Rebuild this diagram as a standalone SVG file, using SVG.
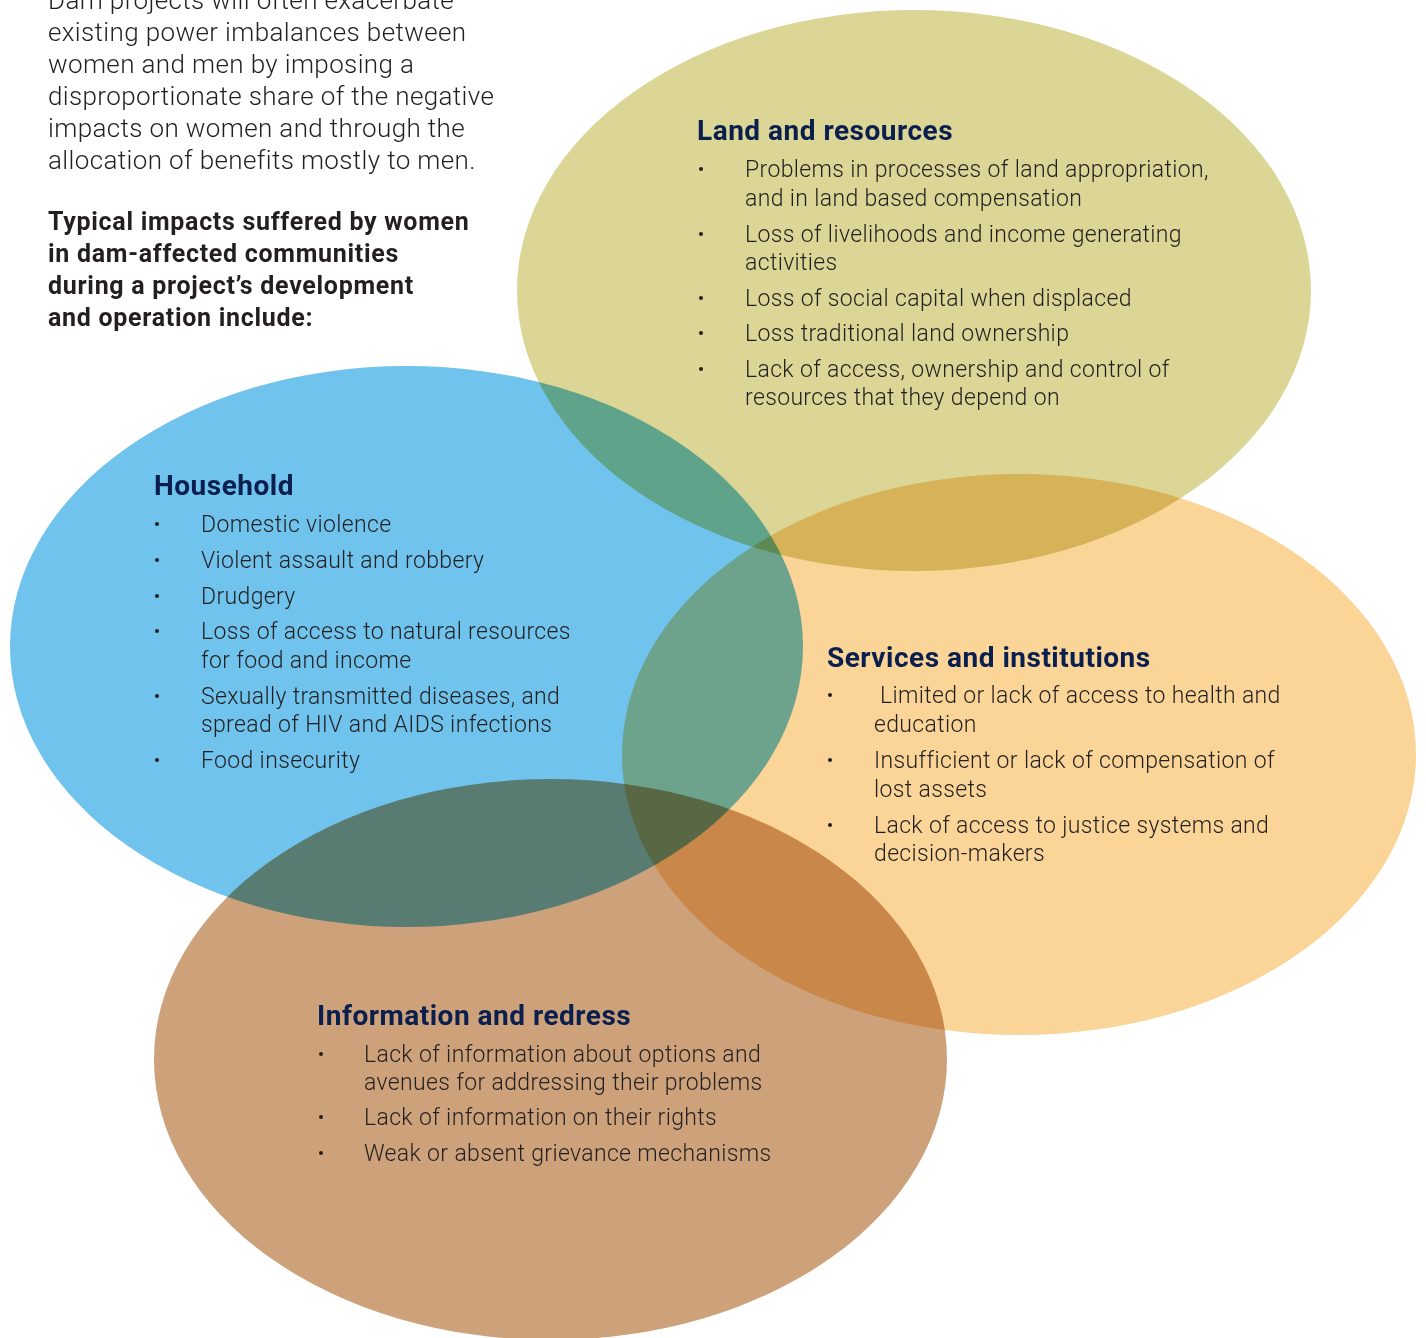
<svg xmlns="http://www.w3.org/2000/svg" width="1426" height="1338" viewBox="0 0 1426 1338">
<style>
.bg{fill:#ffffff}
.el{mix-blend-mode:multiply}
.intro{font-family:Roboto,"Liberation Sans",sans-serif;font-weight:300;font-size:26px;letter-spacing:0.37px;fill:#231f20}
.lead{font-family:Roboto,"Liberation Sans",sans-serif;font-weight:700;font-size:25px;letter-spacing:0.7px;fill:#231f20}
.title{font-family:Roboto,"Liberation Sans",sans-serif;font-weight:700;font-size:28px;letter-spacing:0.5px;fill:#0b1f4f}
.item{font-family:Roboto,"Liberation Sans",sans-serif;font-weight:300;font-size:23px;letter-spacing:0.35px;fill:#231f20}
.dot{fill:#231f20}
</style>
<rect class="bg" x="0" y="0" width="1426" height="1338"/>
<g id="ellipses">
<ellipse id="e-land" class="el" cx="914" cy="290.5" rx="397" ry="280.5" fill="#dbd695"/>
<ellipse id="e-household" class="el" cx="406.5" cy="646.5" rx="396.5" ry="280.5" fill="#6fc3ec"/>
<ellipse id="e-services" class="el" cx="1019" cy="754.5" rx="397" ry="280.5" fill="#fad597"/>
<ellipse id="e-info" class="el" cx="550.5" cy="1059.5" rx="396.5" ry="280.5" fill="#cda27b"/>
</g>
<g id="intro">
<text class="intro" x="48" y="9">Dam projects will often exacerbate</text>
<text class="intro" x="48" y="41">existing power imbalances between</text>
<text class="intro" x="48" y="73">women and men by imposing a</text>
<text class="intro" x="48" y="105">disproportionate share of the negative</text>
<text class="intro" x="48" y="137">impacts on women and through the</text>
<text class="intro" x="48" y="169">allocation of benefits mostly to men.</text>
<text class="lead" x="48" y="230">Typical impacts suffered by women</text>
<text class="lead" x="48" y="262">in dam-affected communities</text>
<text class="lead" x="48" y="294">during a project’s development</text>
<text class="lead" x="48" y="326">and operation include:</text>
</g>
<g id="land">
<text class="title" x="697" y="140">Land and resources</text>
<circle class="dot" cx="701" cy="169" r="2"/>
<text class="item" x="745" y="177">Problems in processes of land appropriation,</text>
<text class="item" x="745" y="206">and in land based compensation</text>
<circle class="dot" cx="701" cy="234" r="2"/>
<text class="item" x="745" y="242">Loss of livelihoods and income generating</text>
<text class="item" x="745" y="270">activities</text>
<circle class="dot" cx="701" cy="298" r="2"/>
<text class="item" x="745" y="306">Loss of social capital when displaced</text>
<circle class="dot" cx="701" cy="333" r="2"/>
<text class="item" x="745" y="341">Loss traditional land ownership</text>
<circle class="dot" cx="701" cy="369" r="2"/>
<text class="item" x="745" y="377">Lack of access, ownership and control of</text>
<text class="item" x="745" y="405">resources that they depend on</text>
</g>
<g id="household">
<text class="title" x="154" y="495">Household</text>
<circle class="dot" cx="157" cy="524" r="2"/>
<text class="item" x="201" y="532">Domestic violence</text>
<circle class="dot" cx="157" cy="560" r="2"/>
<text class="item" x="201" y="568">Violent assault and robbery</text>
<circle class="dot" cx="157" cy="596" r="2"/>
<text class="item" x="201" y="604">Drudgery</text>
<circle class="dot" cx="157" cy="631" r="2"/>
<text class="item" x="201" y="639">Loss of access to natural resources</text>
<text class="item" x="201" y="668">for food and income</text>
<circle class="dot" cx="157" cy="696" r="2"/>
<text class="item" x="201" y="704">Sexually transmitted diseases, and</text>
<text class="item" x="201" y="732">spread of HIV and AIDS infections</text>
<circle class="dot" cx="157" cy="760" r="2"/>
<text class="item" x="201" y="768">Food insecurity</text>
</g>
<g id="services">
<text class="title" x="827" y="667">Services and institutions</text>
<circle class="dot" cx="830" cy="695" r="2"/>
<text class="item" x="874" y="703" xml:space="preserve"> Limited or lack of access to health and</text>
<text class="item" x="874" y="732">education</text>
<circle class="dot" cx="830" cy="760" r="2"/>
<text class="item" x="874" y="768">Insufficient or lack of compensation of</text>
<text class="item" x="874" y="797">lost assets</text>
<circle class="dot" cx="830" cy="825" r="2"/>
<text class="item" x="874" y="833">Lack of access to justice systems and</text>
<text class="item" x="874" y="861">decision-makers</text>
</g>
<g id="information">
<text class="title" x="317" y="1025">Information and redress</text>
<circle class="dot" cx="321" cy="1054" r="2"/>
<text class="item" x="364" y="1062">Lack of information about options and</text>
<text class="item" x="364" y="1090">avenues for addressing their problems</text>
<circle class="dot" cx="321" cy="1117" r="2"/>
<text class="item" x="364" y="1125">Lack of information on their rights</text>
<circle class="dot" cx="321" cy="1153" r="2"/>
<text class="item" x="364" y="1161">Weak or absent grievance mechanisms</text>
</g>
<g id="connectors"></g>
</svg>
